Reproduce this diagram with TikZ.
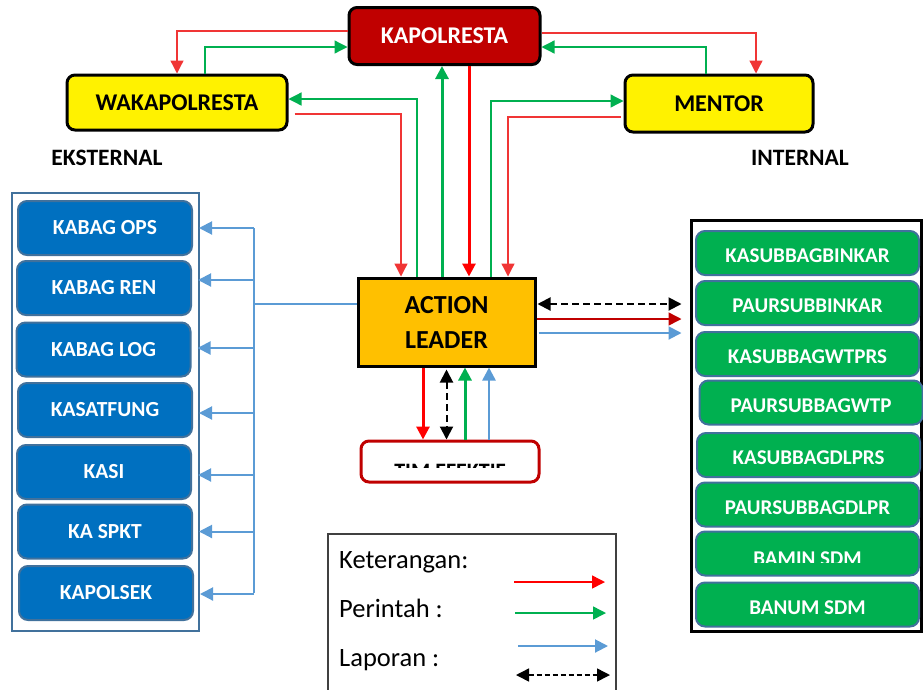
\documentclass[tikz,border=0pt]{standalone}
\usepackage{fontspec}
\setmainfont{Carlito}
\usetikzlibrary{arrows.meta,calc}
\definecolor{kapred}{HTML}{C00000}
\definecolor{alorange}{HTML}{FFC000}
\definecolor{boxblue}{HTML}{0070C0}
\definecolor{boxgreen}{HTML}{00B050}
\definecolor{bordblue}{HTML}{41719C}
\definecolor{lineblue}{HTML}{5B9BD5}
\definecolor{linered}{HTML}{FF0000}
\definecolor{thinred}{HTML}{F03535}
\definecolor{linegreen}{HTML}{00B050}
\tikzset{
  headbox/.style={draw, line width=3pt, rounded corners=8pt, inner sep=0pt,
    font=\bfseries\fontsize{24}{28}\selectfont},
  lbox/.style={draw=bordblue, line width=2pt, fill=boxblue, rounded corners=9pt,
    minimum width=174pt, minimum height=54pt, inner sep=0pt, text=white,
    font=\bfseries\fontsize{21.5}{24}\selectfont},
  gbox/.style={draw=bordblue, line width=2pt, fill=boxgreen, rounded corners=9pt,
    minimum width=223pt, minimum height=44pt, inner sep=0pt, text=white,
    text height=19pt, text depth=0pt,
    font=\bfseries\fontsize{21}{24}\selectfont},
  boxtext/.style={inner sep=0pt, font=\bfseries\fontsize{21}{24}\selectfont},
  tip/.style={-{Triangle[length=13pt,width=13pt]}},
  tips/.style={{Triangle[length=13pt,width=13pt]}-{Triangle[length=13pt,width=13pt]}},
  thinred/.style={draw=thinred, line width=1.3pt, tip},
  thingreen/.style={draw=linegreen, line width=1.3pt, tip},
  thickred/.style={draw=linered, line width=3pt, tip},
  thickgreen/.style={draw=linegreen, line width=3pt, tip},
  blueline/.style={draw=lineblue, line width=2pt},
  bluearrow/.style={blueline, tip},
  dash2/.style={draw=black, line width=2pt, dash pattern=on 7pt off 4pt, tips},
  legtext/.style={anchor=base west, inner sep=0pt, font=\fontsize{26.5}{30}\selectfont},
  grouplabel/.style={inner sep=0pt, font=\bfseries\fontsize{23.5}{27}\selectfont}
}
\begin{document}
\begin{tikzpicture}[x=1pt,y=-1pt]
\useasboundingbox (0,0) rectangle (923,689);

% top level
\node[headbox, fill=kapred, text=white, minimum width=191pt, minimum height=57pt] (kap) at (444.5,36) {KAPOLRESTA};
\node[headbox, fill=yellow, minimum width=220pt, minimum height=55pt] (waka) at (177,102.5) {WAKAPOLRESTA};
\node[headbox, fill=yellow, minimum width=188pt, minimum height=57pt] (mentor) at (719,103.5) {MENTOR};

\node[grouplabel] (eks) at (107,158) {EKSTERNAL};
\node[grouplabel] (int) at (800,158) {INTERNAL};

% central node
\node[draw, line width=3pt, fill=alorange, minimum width=177pt, minimum height=88pt,
  inner sep=0pt, align=center, font=\bfseries\fontsize{26}{35}\selectfont] (al) at (446.5,322) {ACTION\\LEADER};

% team box with its cut-off label
\node[draw=kapred, line width=3pt, fill=white, rounded corners=8pt, minimum width=178pt, minimum height=41pt] (tim) at (450,461.5) {};
\begin{scope}
  \clip (362,441) rectangle (538,467.5);
  \node[boxtext, font=\bfseries\fontsize{22}{26}\selectfont] (timtext) at (450,471) {TIM EFEKTIF};
\end{scope}

% external group
\node[draw=bordblue, line width=2pt, minimum width=187pt, minimum height=438pt] (ekst) at (105.5,412) {};
\node[lbox] (ops) at (105,228) {KABAG OPS};
\node[lbox] (ren) at (104,288) {KABAG REN};
\node[lbox] (log) at (103.5,349.5) {KABAG LOG};
\node[lbox] (satfung) at (105,410) {KASATFUNG};
\node[lbox] (kasi) at (104,472) {KASI};
\node[lbox] (spkt) at (105,531.5) {KA SPKT};
\node[lbox] (polsek) at (106,593) {KAPOLSEK};

% internal group
\node[draw, line width=3pt, minimum width=230pt, minimum height=411pt] (intern) at (806,425.5) {};
\node[gbox] (binkar) at (807.5,253) {KASUBBAGBINKAR};
\node[gbox] (paurbinkar) at (807.5,303) {PAURSUBBINKAR};
\node[gbox] (wtprs) at (807.5,354) {KASUBBAGWTPRS};
\node[gbox] (wtp) at (811,402.5) {PAURSUBBAGWTP};
\node[gbox] (dlprs) at (808.5,455) {KASUBBAGDLPRS};
\node[gbox] (dlpr) at (807.5,504.5) {PAURSUBBAGDLPR};
\node[gbox] (bamin) at (807.5,553.5) {};
\begin{scope}
  \clip (697,532) rectangle (918,562);
  \node[boxtext, text=white] (bamintext) at (807.5,558.5) {BAMIN SDM};
\end{scope}
\node[gbox] (banum) at (807.5,604.5) {BANUM SDM};

% between the top nodes
\draw[thinred] ([yshift=5pt]kap.west) -| (waka.north);
\draw[thingreen] ([xshift=28pt]waka.north) |- ([yshift=-11pt]kap.west);
\draw[thinred] ([yshift=3pt]kap.east) -| ([xshift=37pt]mentor.north);
\draw[thingreen] ([xshift=-13pt]mentor.north) |- ([yshift=-11pt]kap.east);

% top nodes and the action leader
\draw[thingreen] ([xshift=-29.5pt]al.north) |- ([yshift=3.5pt]waka.east);
\draw[thinred, shorten <=6pt] ([yshift=-11.5pt]waka.east) -| ([xshift=-45.5pt]al.north);
\draw[thickgreen] ([xshift=-4.5pt]al.north) -- ([xshift=-4.5pt]al.north |- kap.south);
\draw[thickred] ([xshift=22.5pt]al.north |- kap.south) -- ([xshift=22.5pt]al.north);
\draw[thingreen] ([xshift=44.5pt]al.north) |- ([yshift=2.5pt]mentor.west);
\draw[thinred, shorten <=3pt] ([yshift=-13.5pt]mentor.west) -| ([xshift=61.5pt]al.north);

% action leader and internal group
\draw[dash2, shorten <=1pt, shorten >=8pt] ([yshift=18pt]al.east) -- ([yshift=18pt]al.east -| intern.west);
\draw[draw=kapred, line width=1.5pt, tip, shorten >=8pt] ([yshift=3pt]al.east) -- ([yshift=3pt]al.east -| intern.west);
\draw[bluearrow, shorten <=2pt, shorten >=8pt] ([yshift=-11pt]al.east) -- ([yshift=-11pt]al.east -| intern.west);

% action leader and team
\draw[thickred] ([xshift=-23.5pt]al.south) -- ([xshift=-23.5pt]al.south |- tim.north);
\draw[dash2, shorten <=2pt] (al.south) -- (al.south |- tim.north);
\draw[thickgreen] ([xshift=18.5pt]al.south |- tim.north) -- ([xshift=18.5pt]al.south);
\draw[bluearrow, line width=2.5pt] ([xshift=42.5pt]al.south |- tim.north) -- ([xshift=42.5pt]al.south);

% action leader and external group
\coordinate (bus) at (254,304);
\draw[blueline] ([yshift=18pt]al.west) -- (bus);
\draw[blueline] (bus |- ops.east) -- (bus |- polsek.east);
\draw[bluearrow, shorten >=6pt] (bus |- ops.east) -- (ops.east);
\draw[bluearrow, shorten >=6pt] ([yshift=8pt]bus |- ren.east) -- ([yshift=8pt]ren.east);
\draw[bluearrow, shorten >=6pt] ([yshift=1.5pt]bus |- log.east) -- ([yshift=1.5pt]log.east);
\draw[bluearrow, shorten >=6pt] ([yshift=-3pt]bus |- satfung.east) -- ([yshift=-3pt]satfung.east);
\draw[bluearrow, shorten >=6pt] ([yshift=-3pt]bus |- kasi.east) -- ([yshift=-3pt]kasi.east);
\draw[bluearrow, shorten >=6pt] (bus |- spkt.east) -- (spkt.east);
\draw[bluearrow, shorten >=6pt] ([yshift=-1pt]bus |- polsek.east) -- ([yshift=-1pt]polsek.east);

% legend
\node[draw=black!75, line width=1.5pt, minimum width=288pt, minimum height=167pt, anchor=north west] (legend) at (327,533) {};
\node[legtext] (ket) at (339,568) {Keterangan:};
\node[legtext] (perintah) at (339,617) {Perintah :};
\node[legtext] (laporan) at (339,666) {Laporan :};
\coordinate (r1) at (514,582); \coordinate (r2) at (605,582);
\coordinate (g1) at (515,613); \coordinate (g2) at (606,613);
\coordinate (b1) at (518,646); \coordinate (b2) at (608,646);
\coordinate (d1) at (516,675); \coordinate (d2) at (610,675);
\draw[draw=linered, line width=1.5pt, tip] (r1) -- (r2);
\draw[draw=linegreen, line width=1.5pt, tip] (g1) -- (g2);
\draw[bluearrow] (b1) -- (b2);
\draw[dash2, line width=1.5pt, dash pattern=on 5pt off 3pt] (d1) -- (d2);
\end{tikzpicture}
\end{document}
